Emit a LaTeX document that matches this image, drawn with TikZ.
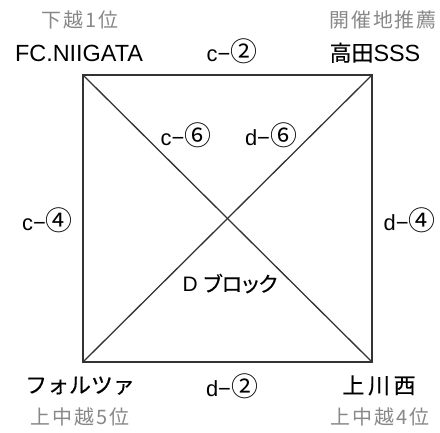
\documentclass[tikz,border=0pt]{standalone}
\usepackage{fontspec}
\setmainfont{Liberation Sans}
\newfontfamily\jp{Noto Sans CJK JP}[FakeBold=0.4]
\newfontfamily\jpcirc{Noto Sans CJK JP}
\newfontfamily\jpsp{Noto Sans CJK JP}[LetterSpace=10]
\newfontfamily\jpwide{Noto Sans CJK JP}[LetterSpace=17,FakeBold=0.4]
\newfontfamily\jpprop{Noto Sans CJK JP}[RawFeature=+palt,FakeBold=0.4]
\definecolor{subgrey}{HTML}{888888}
\definecolor{linegrey}{HTML}{333333}
\newcommand\matchlab[2]{#1−{\fontsize{27}{29}\selectfont\jpcirc #2}}
\tikzset{
  team/.style={font=\fontsize{23.5}{26}\selectfont, text=black, inner sep=0pt, anchor=base},
  sub/.style={font=\fontsize{20}{22}\selectfont\jpsp, text=subgrey, inner sep=0pt, anchor=base},
  match/.style={font=\fontsize{22}{24}\selectfont, text=black, inner sep=0pt, anchor=base},
  edge/.style={line width=1.3bp, draw=linegrey}
}
\begin{document}
\begin{tikzpicture}[x=1bp,y=-1bp]
\useasboundingbox (0,0) rectangle (440,432);
\coordinate (tl) at (83,75);
\coordinate (tr) at (372,75);
\coordinate (bl) at (83,362);
\coordinate (br) at (372,362);
\draw[edge] (tl) -- (tr) -- (br) -- (bl) -- cycle;
\draw[edge] (tl) -- (br);
\draw[edge] (tr) -- (bl);
\node[sub] (s1) at (80,27.8) {下越1位};
\node[team] (t1) at (79,61.7) {FC.NIIGATA};
\node[sub] (s2) at (383,27.8) {開催地推薦};
\node[team] (t2) at (375,61) {{\fontsize{22}{24}\selectfont\jp 高田}SSS};
\node[team] (t3) at (80,393) {\fontsize{22}{24}\selectfont\jp フォルツァ};
\node[sub] (s3) at (80,424) {上中越5位};
\node[team] (t4) at (379,393.5) {\fontsize{22}{24}\selectfont\jpwide 上川西};
\node[sub] (s4) at (380,424) {上中越4位};
\node[match] (m1) at (232,61) {\matchlab{c}{②}};
\node[match] (m2) at (232,396) {\matchlab{d}{②}};
\node[match] (m3) at (47.5,230.5) {\matchlab{c}{④}};
\node[match] (m4) at (409.5,230.5) {\matchlab{d}{④}};
\node[match] (m5) at (186,145) {\matchlab{c}{⑥}};
\node[match] (m6) at (271,145) {\matchlab{d}{⑥}};
\node[match] (blk) at (230,291.7) {\fontsize{21}{23}\selectfont D {\jpprop ブロック}};
\end{tikzpicture}
\end{document}
